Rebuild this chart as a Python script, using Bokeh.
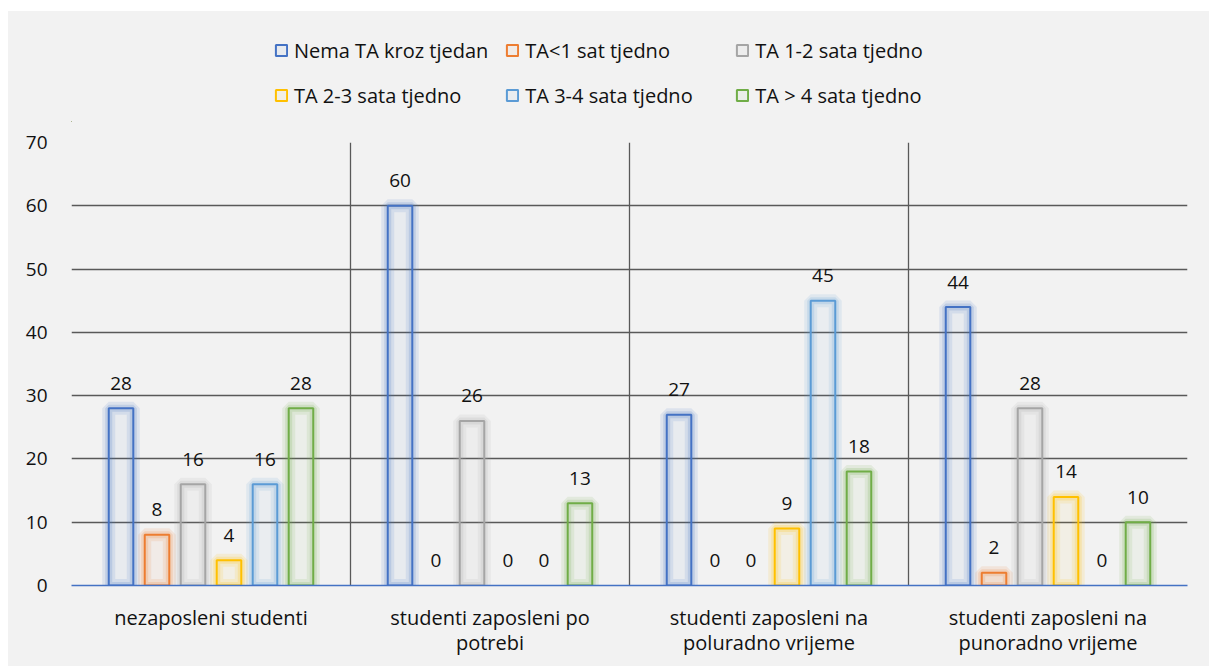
from bokeh.plotting import figure
from bokeh.models import (ColumnDataSource, FixedTicker, Legend, LegendItem,
                          CDSView, BooleanFilter, Range1d)
from bokeh.layouts import column
from bokeh.embed import file_html
from bokeh.resources import INLINE
from bokeh.core.properties import value

categories = ["nezaposleni studenti",
              "studenti zaposleni po\npotrebi",
              "studenti zaposleni na\npoluradno vrijeme",
              "studenti zaposleni na\npunoradno vrijeme"]
series = ["Nema TA kroz tjedan", "TA<1 sat tjedno", "TA 1-2 sata tjedno",
          "TA 2-3 sata tjedno", "TA 3-4 sata tjedno", "TA > 4 sata tjedno"]
values = {
    "Nema TA kroz tjedan": [28, 60, 27, 44],
    "TA<1 sat tjedno":     [8, 0, 0, 2],
    "TA 1-2 sata tjedno":  [16, 26, 0, 28],
    "TA 2-3 sata tjedno":  [4, 0, 9, 14],
    "TA 3-4 sata tjedno":  [16, 0, 45, 0],
    "TA > 4 sata tjedno":  [28, 13, 18, 10],
}
colors = ["#4472C4", "#ED7D31", "#A5A5A5", "#FFC000", "#5B9BD5", "#70AD47"]
y_ticks = [0, 10, 20, 30, 40, 50, 60, 70]

FONT = "Open Sans"
FS = "20px"
NFS = "19px"
TXT = "#111111"
BG = "#f2f2f2"

# ---- legend strip ----
lg = figure(width=1201, height=111, output_backend="svg", toolbar_location=None,
            x_range=Range1d(0, 1), y_range=Range1d(0, 1),
            x_axis_location=None, y_axis_location=None,
            min_border=0)
lg.background_fill_color = BG
lg.border_fill_color = BG
lg.outline_line_color = None
lg.grid.visible = False

# ---- main chart ----
p = figure(width=1201, height=544, output_backend="svg", toolbar_location=None,
           x_range=Range1d(0, len(categories)), y_range=Range1d(0, 70),
           min_border_left=63, min_border_top=20, min_border_right=22,
           min_border_bottom=81)
p.background_fill_color = BG
p.border_fill_color = BG
p.outline_line_color = None

step = 0.129
bw = 0.088
items = []
for i, s in enumerate(series):
    xs = [k + 0.5 + (i - 2.5) * step for k in range(len(categories))]
    vals = values[s]
    src = ColumnDataSource(dict(x=xs, top=vals, label=[str(v) for v in vals]))
    view = CDSView(filter=BooleanFilter([v > 0 for v in vals]))
    c = colors[i]
    p.vbar(x="x", top="top", width=bw, source=src, view=view, fill_color=None,
           line_color=c, line_alpha=0.12, line_width=13)
    p.vbar(x="x", top="top", width=bw, source=src, view=view, fill_color=None,
           line_color=c, line_alpha=0.18, line_width=7)
    p.vbar(x="x", top="top", width=bw, source=src, view=view,
           fill_color=c, fill_alpha=0.05, line_color=c, line_width=2)
    p.text(x="x", y="top", text="label", source=src, text_align="center",
           text_baseline="alphabetic", y_offset=-25, text_font=value(FONT),
           text_font_size=NFS, text_color=TXT)
    # legend swatch renderer (same style as the bars, drawn far off-range)
    r = lg.vbar(x=[-50], top=[-50], bottom=[-51], width=0.1, fill_color=c,
                fill_alpha=0.05, line_color=c, line_width=2)
    items.append(LegendItem(label=s, renderers=[r]))

# grids
p.ygrid.ticker = FixedTicker(ticks=y_ticks)
p.ygrid.grid_line_color = "#595959"
p.ygrid.grid_line_width = 1.3
p.xgrid.ticker = FixedTicker(ticks=list(range(len(categories) + 1)))
p.xgrid.grid_line_color = "#595959"
p.xgrid.grid_line_width = 1.3

# axes
p.yaxis.ticker = FixedTicker(ticks=y_ticks)
p.yaxis.axis_line_color = None
p.yaxis.major_tick_line_color = None
p.yaxis.minor_tick_line_color = None
p.yaxis.major_label_standoff = 18
p.yaxis.major_label_text_font = FONT
p.yaxis.major_label_text_font_size = NFS
p.yaxis.major_label_text_color = TXT

p.xaxis.ticker = FixedTicker(ticks=[k + 0.5 for k in range(len(categories))])
p.xaxis.major_label_overrides = {k + 0.5: c for k, c in enumerate(categories)}
p.xaxis.axis_line_color = "#4472C4"
p.xaxis.axis_line_width = 1.5
p.xaxis.major_tick_line_color = None
p.xaxis.minor_tick_line_color = None
p.xaxis.major_label_standoff = 12
p.xaxis.major_label_text_font = FONT
p.xaxis.major_label_text_font_size = FS
p.xaxis.major_label_text_line_height = 0.95
p.xaxis.major_label_text_color = TXT

legend = Legend(items=items, orientation="horizontal", ncols=3,
                location=(203, 13), padding=0, margin=0,
                glyph_width=14, glyph_height=14, label_standoff=6,
                label_width=193, label_height=28, spacing=17,
                label_text_font=FONT, label_text_font_size=FS,
                label_text_color=TXT, background_fill_alpha=0,
                border_line_color=None)
lg.add_layout(legend, "center")

layout = column(lg, p, spacing=0)
layout.styles = {"margin-left": "8px", "margin-top": "11px",
                 "background-color": BG}

open("out.html", "w").write(file_html(layout, INLINE))
